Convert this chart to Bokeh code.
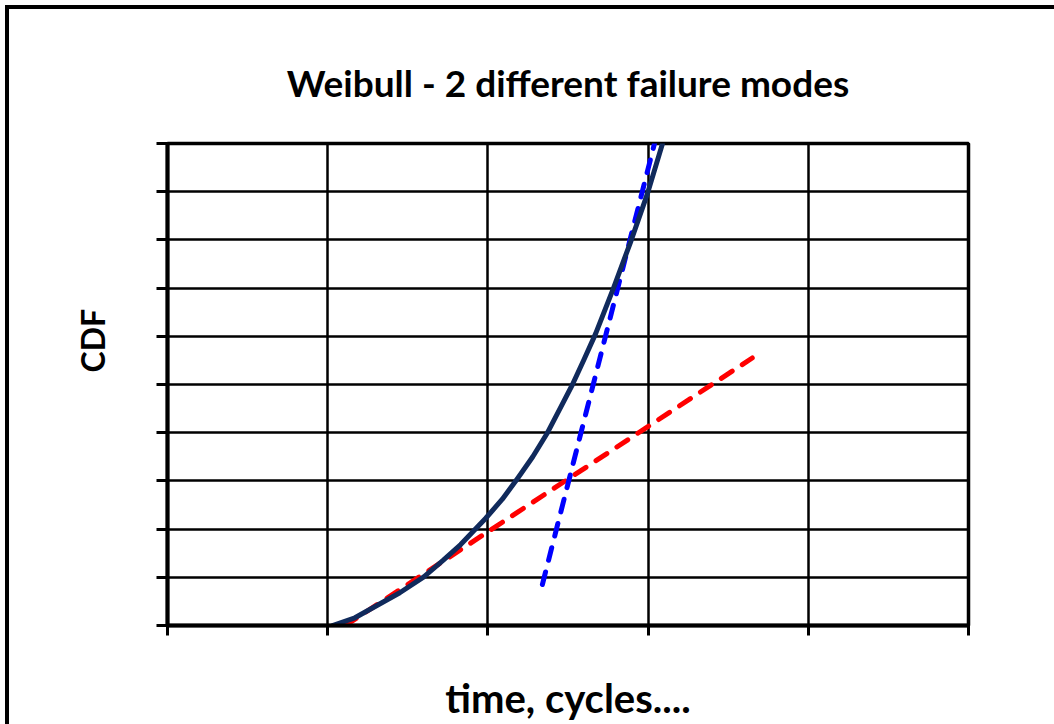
from bokeh.plotting import figure
from bokeh.models import Range1d, FixedTicker, CustomJSTickFormatter, Title
from bokeh.embed import file_html
from bokeh.resources import INLINE

# ---- data ----
title_text = "Weibull - 2 different failure modes"
x_label = "time, cycles...."
y_label = "CDF"

x_ticks = [0, 1, 2, 3, 4, 5]
y_ticks = [0, 1, 2, 3, 4, 5, 6, 7, 8, 9, 10]

combined_x = [1.03, 1.17, 1.31, 1.45, 1.60, 1.72, 1.83, 1.985, 2.09, 2.185, 2.28,
              2.372, 2.45, 2.528, 2.60, 2.672, 2.784, 2.89, 2.996, 3.09]
combined_y = [0.0, 0.16, 0.42, 0.68, 1.01, 1.35, 1.68, 2.22, 2.62, 3.05, 3.5,
              4.0, 4.5, 5.0, 5.52, 6.05, 7.0, 7.95, 8.96, 10.0]

mode1_x = [1.11, 3.65]
mode1_y = [0.0, 5.55]

mode2_x = [2.34, 3.04]
mode2_y = [0.85, 10.0]

FONT = "Lato"

p = figure(width=1054, height=724, output_backend="svg", toolbar_location=None,
           x_range=Range1d(0, 5), y_range=Range1d(0, 10),
           min_border_left=167, min_border_right=86, min_border_top=143, min_border_bottom=98)
# outer chart border (left and top edges only; the rest is cut off in the reference)
p.styles = {"background-color": "white",
            "box-shadow": "inset 5px 5px 0 0 white, inset 9px 9px 0 0 black"}

p.title = Title(text=title_text, align="center", text_font=FONT, text_font_size="37px",
                text_font_style="bold", text_color="black", standoff=78)

p.background_fill_color = "white"
p.border_fill_color = None
p.outline_line_color = "black"
p.outline_line_width = 3.5

for ax in (p.xaxis[0], p.yaxis[0]):
    ax.formatter = CustomJSTickFormatter(code="return ''")
    ax.minor_tick_line_color = None
    ax.major_tick_in = 0
    ax.major_tick_line_width = 3
    ax.major_tick_line_color = "black"
    ax.axis_line_width = 4
    ax.axis_line_color = "black"
    ax.major_label_standoff = 0

p.xaxis[0].ticker = FixedTicker(ticks=x_ticks)
p.yaxis[0].ticker = FixedTicker(ticks=y_ticks)
p.xaxis[0].major_tick_out = 10
p.yaxis[0].major_tick_out = 11

p.xaxis[0].axis_label = x_label
p.xaxis[0].axis_label_text_font = FONT
p.xaxis[0].axis_label_text_font_size = "40px"
p.xaxis[0].axis_label_text_font_style = "bold"
p.xaxis[0].axis_label_text_color = "black"
p.xaxis[0].axis_label_standoff = 38

p.xgrid.ticker = FixedTicker(ticks=x_ticks)
p.ygrid.ticker = FixedTicker(ticks=y_ticks)
for g in (p.xgrid[0], p.ygrid[0]):
    g.grid_line_color = "black"
    g.grid_line_width = 2.5
    g.grid_line_alpha = 1.0

# rotated y label as a side title, so it can sit above the frame's centre
p.add_layout(Title(text=y_label, align="left", offset=253, standoff=90,
                   text_font=FONT, text_font_size="32px", text_font_style="bold",
                   text_color="black"), "left")

p.line(mode1_x, mode1_y, line_color="#FF0000", line_width=5, line_dash="13 12", line_cap="round")
p.line(mode2_x, mode2_y, line_color="#0000FF", line_width=5, line_dash="13 12", line_cap="round")
p.line(combined_x, combined_y, line_color="#102A5C", line_width=5, line_join="round", line_cap="round")

open("out.html", "w").write(file_html(p, INLINE))
